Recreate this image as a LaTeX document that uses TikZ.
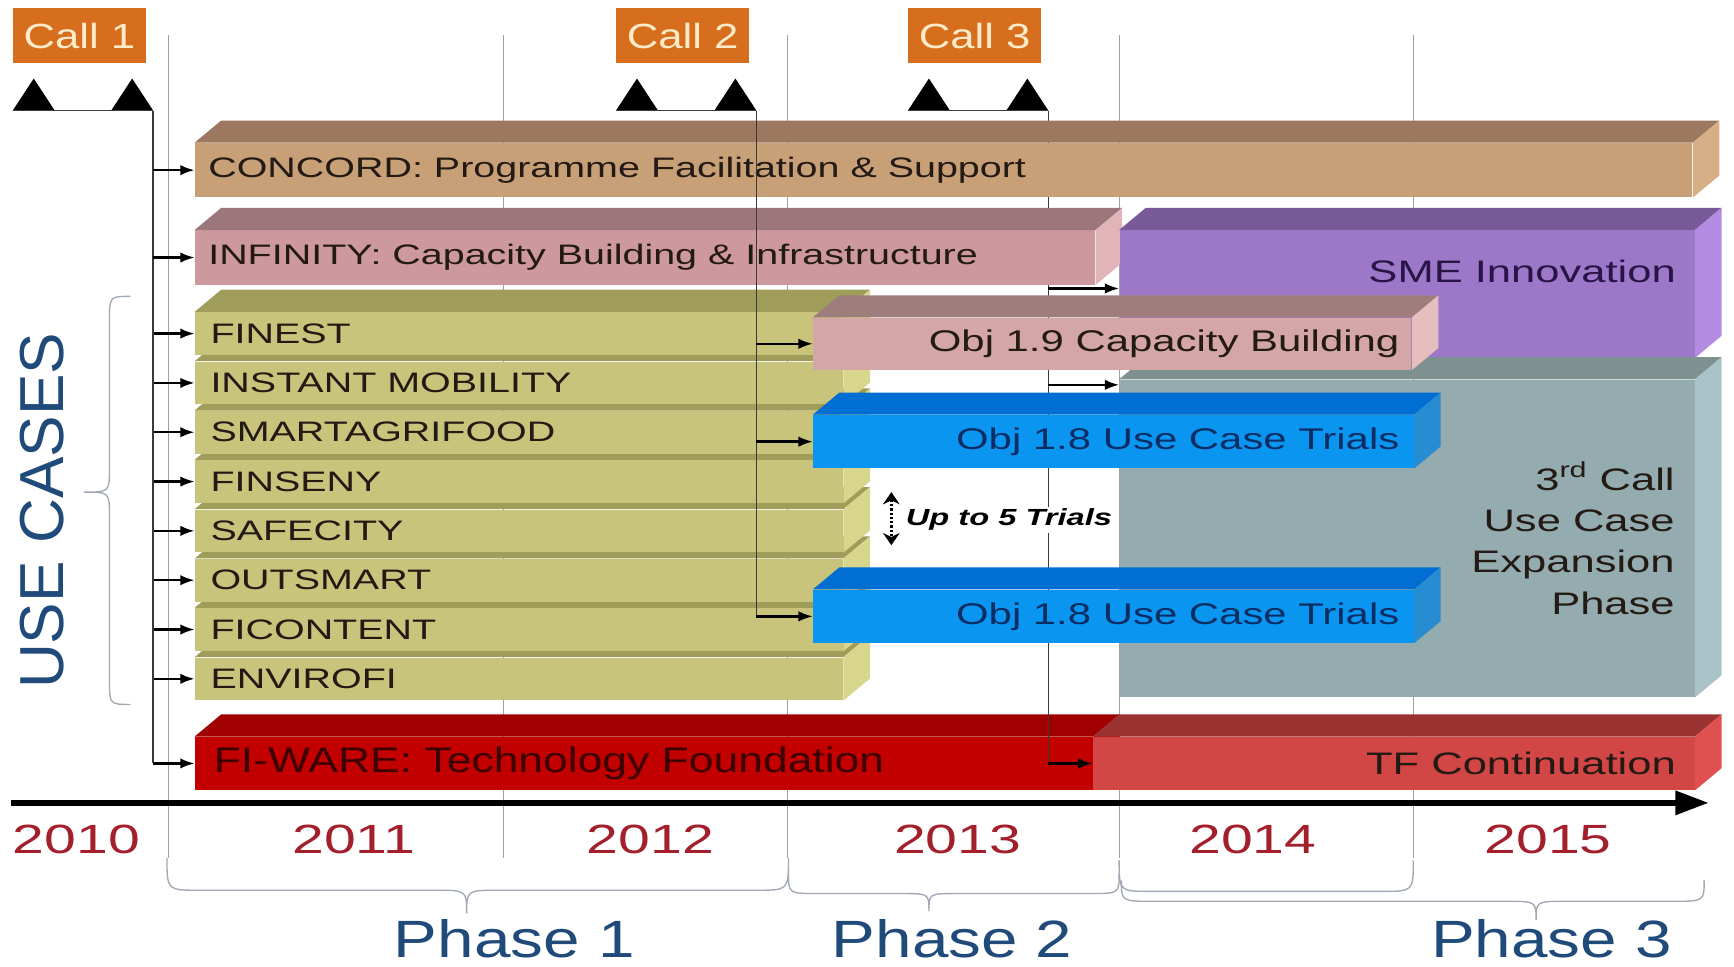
\documentclass[tikz,border=0pt]{standalone}
\usepackage{fontspec}
\setmainfont{Liberation Sans}
\newfontfamily\wideA{Liberation Sans}[FakeStretch=1.4]
\newfontfamily\wideB{Liberation Sans}[FakeStretch=1.25]
\usetikzlibrary{arrows.meta}

\definecolor{callF}{HTML}{D76E1E}
\definecolor{callT}{HTML}{FFEBC8}
\definecolor{concF}{HTML}{C8A078}\definecolor{concT}{HTML}{9B785F}\definecolor{concS}{HTML}{D7AF87}
\definecolor{infF}{HTML}{CD989E}\definecolor{infT}{HTML}{9B767A}\definecolor{infS}{HTML}{E1B4B9}
\definecolor{smeF}{HTML}{9E78C8}\definecolor{smeT}{HTML}{785A9B}\definecolor{smeS}{HTML}{B48CE1}
\definecolor{expF}{HTML}{94ACAF}\definecolor{expT}{HTML}{7D9191}\definecolor{expS}{HTML}{AAC3C8}
\definecolor{ucF}{HTML}{C8C47C}\definecolor{ucT}{HTML}{A09C5A}\definecolor{ucS}{HTML}{D7D68C}
\definecolor{capF}{HTML}{D4A6A6}\definecolor{capT}{HTML}{A07D7D}\definecolor{capS}{HTML}{E6BEBE}
\definecolor{triF}{HTML}{0A96F0}\definecolor{triT}{HTML}{006ED2}\definecolor{triS}{HTML}{288CD2}
\definecolor{fiwF}{HTML}{C30000}\definecolor{fiwT}{HTML}{A00000}\definecolor{fiwS}{HTML}{D00000}
\definecolor{tfF}{HTML}{D24646}\definecolor{tfT}{HTML}{9B3232}\definecolor{tfS}{HTML}{E15050}
\definecolor{barTxt}{HTML}{231A14}
\definecolor{triTxt}{HTML}{0A2D64}
\definecolor{smeTxt}{HTML}{281446}
\definecolor{fiwTxt}{HTML}{3C0000}
\definecolor{yearC}{HTML}{A31F2B}
\definecolor{phaseC}{HTML}{1F4A7A}
\definecolor{gridC}{HTML}{A0A0A0}
\definecolor{braceC}{HTML}{A0A8B4}
\definecolor{linkC}{HTML}{3A3A3A}

\newcommand\px{0.2mm}
% block with top and side face: name, x, y, width, height, colour prefix
\newcommand\slab[6]{%
  \node[slabfront, fill=#6F, minimum width=#4*\px, minimum height=#5*\px] (#1) at (#2,#3) {};
  \fill[#6T] (#1.north west) -- ++(24,-20) -- ([shift={(24,-20)}]#1.north east) -- (#1.north east) -- cycle;
  \fill[#6S] (#1.north east) -- ++(24,-20) -- ([shift={(24,-20)}]#1.south east) -- (#1.south east) -- cycle;}

\begin{document}
\begin{tikzpicture}[x=\px, y=-\px,
  slabfront/.style={inner sep=0pt, anchor=north west},
  lbl/.style={font=\wideA\fontsize{14.5}{17}\selectfont, text=barTxt, inner sep=0pt},
  rlbl/.style={font=\wideA\fontsize{16}{19}\selectfont, inner sep=0pt, anchor=east},
  gline/.style={draw=gridC, line width=0.5pt},
  link/.style={draw=linkC, line width=0.9pt},
  arr/.style={draw=black, line width=1.2pt, -{Latex[length=2.6mm,width=1.9mm]}},
  callbox/.style={fill=callF, text=callT, font=\wideB\fontsize{18}{21}\selectfont, minimum width=120*\px, minimum height=50*\px, anchor=north west, inner sep=0pt},
  year/.style={text=yearC, font=\wideA\fontsize{21}{25}\selectfont},
  phase/.style={text=phaseC, font=\wideB\fontsize{27}{32}\selectfont},
  phbrace/.style={draw=braceC, line width=0.7pt}] %Timeline of the programme
\useasboundingbox (0,0) rectangle (1568,874);

\foreach \gx in {152,455,712,1012,1278}
  \draw[gline] (\gx,32) -- (\gx,776);

% calls
\foreach \n/\l in {1/11.5,2/557,3/821}{
  \node[callbox] (call\n) at (\l,7) {Call \n};
  \fill (\l,100) -- ++(19,-29) -- ++(19,29) -- cycle;
  \fill (\l+89,100) -- ++(19,-29) -- ++(19,29) -- cycle;
  \coordinate (c\n) at (\l+127,100);
  \draw[link] (\l,100) -- (c\n);
}
\draw[link] (c3) -- (c3 |- 0,686);

\slab{concord}{176}{129}{1354}{49}{conc}
\slab{infinity}{176}{208}{814}{49}{inf}
\slab{sme}{1012}{208}{520}{115}{sme}
\slab{expand}{1012}{343}{520}{287}{exp}

% use cases, lowest first
\foreach \i/\nm/\lab in {7/envirofi/ENVIROFI,6/ficontent/FICONTENT,5/outsmart/OUTSMART,4/safecity/SAFECITY,3/finseny/FINSENY,2/smartagri/SMARTAGRIFOOD,1/instant/INSTANT MOBILITY,0/finest/FINEST}{
  \slab{\nm}{176}{282+44.6*\i}{586}{38.6}{uc}
  \node[lbl, anchor=west] (\nm-t) at ([xshift=2.8mm]\nm.west) {\lab};
  \draw[arr] (c1 |- \nm.west) -- (\nm.west);
}

\slab{objnine}{735}{287}{541}{47}{cap}
\slab{trialsA}{735}{375}{543}{48}{tri}
\slab{trialsB}{735}{533}{543}{48}{tri}
\slab{fiware}{176}{666}{812}{48}{fiw}
\slab{tfcont}{988}{666}{544}{48}{tf}

\node[lbl, anchor=west] (concord-t) at ([xshift=2.4mm]concord.west) {CONCORD: Programme Facilitation \& Support};
\node[lbl, anchor=west] (infinity-t) at ([xshift=2.4mm]infinity.west) {INFINITY: Capacity Building \& Infrastructure};
\node[rlbl, text=smeTxt] (sme-t) at ([shift={(-17,-20)}]sme.east) {SME Innovation};
\node[rlbl, text=barTxt, align=right, font=\wideA\fontsize{16}{21.3}\selectfont] (expand-t) at ([xshift=-3.6mm]expand.east) {3\textsuperscript{rd} Call\\Use Case\\Expansion\\Phase};
\node[rlbl, text=barTxt, font=\wideA\fontsize{15.4}{18}\selectfont] (objnine-t) at ([xshift=-2.2mm]objnine.east) {Obj 1.9 Capacity Building};
\node[rlbl, text=triTxt, font=\wideA\fontsize{15.4}{18}\selectfont] (trialsA-t) at ([xshift=-2.6mm]trialsA.east) {Obj 1.8 Use Case Trials};
\node[rlbl, text=triTxt, font=\wideA\fontsize{15.4}{18}\selectfont] (trialsB-t) at ([xshift=-2.6mm]trialsB.east) {Obj 1.8 Use Case Trials};
\node[lbl, anchor=west, text=fiwTxt, font=\wideB\fontsize{18.3}{21}\selectfont] (fiware-t) at ([xshift=3.4mm]fiware.west) {FI-WARE: Technology Foundation};
\node[rlbl, text=barTxt] (tfcont-t) at ([xshift=-3.4mm]tfcont.east) {TF Continuation};

% links from the calls
\draw[link] (c1) -- (c1 |- fiware.west);
\draw[arr] (c1 |- concord.west) -- (concord.west);
\draw[arr] (c1 |- infinity.west) -- (infinity.west);
\draw[arr] (c1 |- fiware.west) -- (fiware.west);
\draw[link] (c2) -- (c2 |- trialsB.west);
\draw[arr] (c2 |- objnine.west) -- (objnine.west);
\draw[arr] (c2 |- trialsA.west) -- (trialsA.west);
\draw[arr] (c2 |- trialsB.west) -- (trialsB.west);
\coordinate (smein) at ([yshift=1mm]sme.west);
\coordinate (expin) at ([yshift=-1mm]expand.north west);
\draw[arr] (c3 |- smein) -- (smein);
\draw[arr] (c3 |- expin) -- (expin);
\draw[link] (c3 |- 0,646) -- (c3 |- tfcont.west);
\draw[arr] (c3 |- tfcont.west) -- (tfcont.west);

\node[font=\wideA\bfseries\itshape\fontsize{12}{14}\selectfont, fill=white, inner sep=1pt, anchor=west] (upto) at (817,470) {Up to 5 Trials};
\draw[densely dotted, line width=1.2pt, {Stealth[length=2.2mm,width=3mm]}-{Stealth[length=2.2mm,width=3mm]}] ([shift={(-11,-25)}]upto.west) -- ([shift={(-11,23)}]upto.west);

% time axis
\coordinate (ax0) at (10,726);
\coordinate (ax1) at (1545,726);
\draw[line width=1mm, -{Triangle[length=6mm,width=4.2mm]}] (ax0) -- (ax1);
\foreach \yr/\yx in {2010/69,2011/320,2012/588,2013/866,2014/1133,2015/1400}
  \node[year] (y\yr) at (\yx,759) {\yr};

\draw[phbrace] (151,776) .. controls (151,805) .. (180,805) -- (393,805) .. controls (422,805) .. (422,826) .. controls (422,805) .. (451,805) -- (684,805) .. controls (713,805) .. (713,776);
\draw[phbrace] (713,790) .. controls (713,808) .. (740,808) -- (815,808) .. controls (840,808) .. (840,824) .. controls (840,808) .. (865,808) -- (985,808) .. controls (1012,808) .. (1012,790);
\draw[phbrace] (1012,778) .. controls (1012,806) .. (1040,806) -- (1250,806) .. controls (1278,806) .. (1278,778);
\draw[phbrace] (1014,796) .. controls (1014,815) .. (1042,815) -- (1362,815) .. controls (1389,815) .. (1389,832) .. controls (1389,815) .. (1416,815) -- (1513,815) .. controls (1541,815) .. (1541,796);
\node[phase] (ph1) at (465,849) {Phase 1};
\node[phase] (ph2) at (861,849) {Phase 2};
\node[phase] (ph3) at (1403,849) {Phase 3};

\draw[phbrace] (118,268) .. controls (99,268) .. (99,290) -- (99,423) .. controls (99,445) .. (76,445) .. controls (99,445) .. (99,467) -- (99,615) .. controls (99,637) .. (118,637);
\node[rotate=90, text=phaseC, font=\fontsize{32}{36}\selectfont] (usecases) at (38,462) {USE CASES};
\end{tikzpicture}
\end{document}
